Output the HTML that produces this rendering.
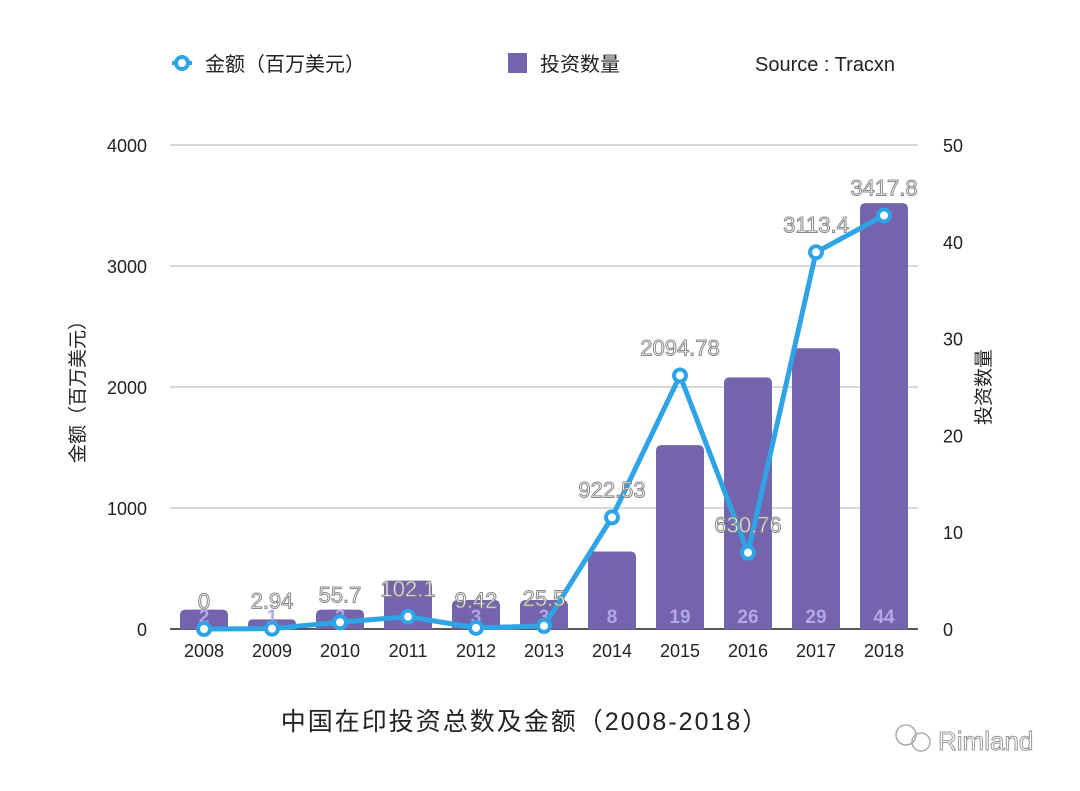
<!DOCTYPE html>
<html><head><meta charset="utf-8"><style>
body{margin:0;background:#fff;}
svg text{font-family:"Liberation Sans","Noto Sans CJK SC",sans-serif;}
</style></head><body>
<svg id="chart" width="1080" height="786" xmlns="http://www.w3.org/2000/svg">
<g id="legend">
 <g>
  <line x1="172" y1="63" x2="192" y2="63" stroke="#2ea3e6" stroke-width="4"/>
  <circle cx="182" cy="63" r="6" fill="#fff" stroke="#2ea3e6" stroke-width="4"/>
  <text x="205" y="71" font-size="20" fill="#222">金额（百万美元）</text>
 </g>
 <g>
  <rect x="508" y="53" width="19" height="20" fill="#7463ad"/>
  <text x="540" y="71" font-size="20" fill="#222">投资数量</text>
 </g>
 <text x="755" y="71" font-size="20" fill="#222">Source : Tracxn</text>
</g>
<g id="grid"></g><g id="bars"></g><g id="line"></g><g id="labels"></g>
<text transform="translate(84,387) rotate(-90)" text-anchor="middle" font-size="19" fill="#222">金额（百万美元）</text>
<text transform="translate(990,387) rotate(-90)" text-anchor="middle" font-size="19" fill="#222">投资数量</text>
<text x="525" y="730" text-anchor="middle" font-size="25" fill="#222" letter-spacing="2">中国在印投资总数及金额（2008-2018）</text>
<g>
 <text x="938" y="750" font-size="26" fill="#fff" stroke="#999" stroke-width="1">Rimland</text>
 <circle cx="906" cy="735" r="10" fill="none" stroke="#aaa" stroke-width="1.5"/>
 <circle cx="921" cy="742" r="9" fill="none" stroke="#aaa" stroke-width="1.5"/>
</g>
</svg>
<script>
const categories=["2008","2009","2010","2011","2012","2013","2014","2015","2016","2017","2018"];
const amounts=[0,2.94,55.7,102.1,9.42,25.5,922.53,2094.78,630.76,3113.4,3417.8];
const amountLabels=["0","2.94","55.7","102.1","9.42","25.5","922.53","2094.78","630.76","3113.4","3417.8"];
const counts=[2,1,2,5,3,3,8,19,26,29,44];
const leftTicks=[0,1000,2000,3000,4000];
const rightTicks=[0,10,20,30,40,50];
const NS="http://www.w3.org/2000/svg";
const x0=170,x1=918,yBase=629,yTop=145;
const step=(x1-x0)/categories.length;
const xc=i=>x0+step*(i+0.5);
const yL=v=>yBase-(v/4000)*(yBase-yTop);
const yR=v=>yBase-(v/50)*(yBase-yTop);
function mk(tag,attrs,parent,txt){const e=document.createElementNS(NS,tag);for(const k in attrs)e.setAttribute(k,attrs[k]);if(txt!==undefined)e.textContent=txt;parent.appendChild(e);return e;}
const grid=document.getElementById('grid');
leftTicks.forEach(t=>{
 const l=mk('line',{x1:x0,x2:x1,y1:yL(t),y2:yL(t),stroke:t===0?'#222':'#ccc','stroke-width':t===0?1.5:1.5},grid);
 
 
 const tx=mk('text',{x:147,y:yL(t)+7,'text-anchor':'end','font-size':18,fill:'#222'},grid,String(t));
 
 
});
rightTicks.forEach(t=>{
 const tx=mk('text',{x:943,y:yR(t)+7,'font-size':18,fill:'#222'},grid,String(t));
 
 
});
const bars=document.getElementById('bars');
const bw=48;
counts.forEach((c,i)=>{
 const y=yR(c),h=yBase-y,r=Math.min(6,h/2);
 const p=mk('path',{d:`M${xc(i)-bw/2},${yBase} V${y+r} Q${xc(i)-bw/2},${y} ${xc(i)-bw/2+r},${y} H${xc(i)+bw/2-r} Q${xc(i)+bw/2},${y} ${xc(i)+bw/2},${y+r} V${yBase} Z`,fill:'#7463ad'},bars);
 
 
 const t=mk('text',{x:xc(i),y:yBase-6,'text-anchor':'middle','font-size':19,'font-weight':'bold',fill:'#b3a8e6'},bars,String(c));
 
 
 const cl=mk('text',{x:xc(i),y:657,'text-anchor':'middle','font-size':18,fill:'#222'},bars,categories[i]);
 
 
});
const line=document.getElementById('line');
const pl=mk('polyline',{points:amounts.map((v,i)=>xc(i)+','+yL(v)).join(' '),fill:'none',stroke:'#2ea3e6','stroke-width':5,'stroke-linejoin':'round'},line);


const labels=document.getElementById('labels');
amounts.forEach((v,i)=>{
 const c=mk('circle',{cx:xc(i),cy:yL(v),r:6,fill:'#fff',stroke:'#2ea3e6','stroke-width':4},line);
 
 
 const t=mk('text',{x:xc(i),y:yL(v)-20,'text-anchor':'middle','font-size':22,fill:'#fff',stroke:'#888','stroke-width':1},labels,amountLabels[i]);
 
 
});
</script>
</body></html>
